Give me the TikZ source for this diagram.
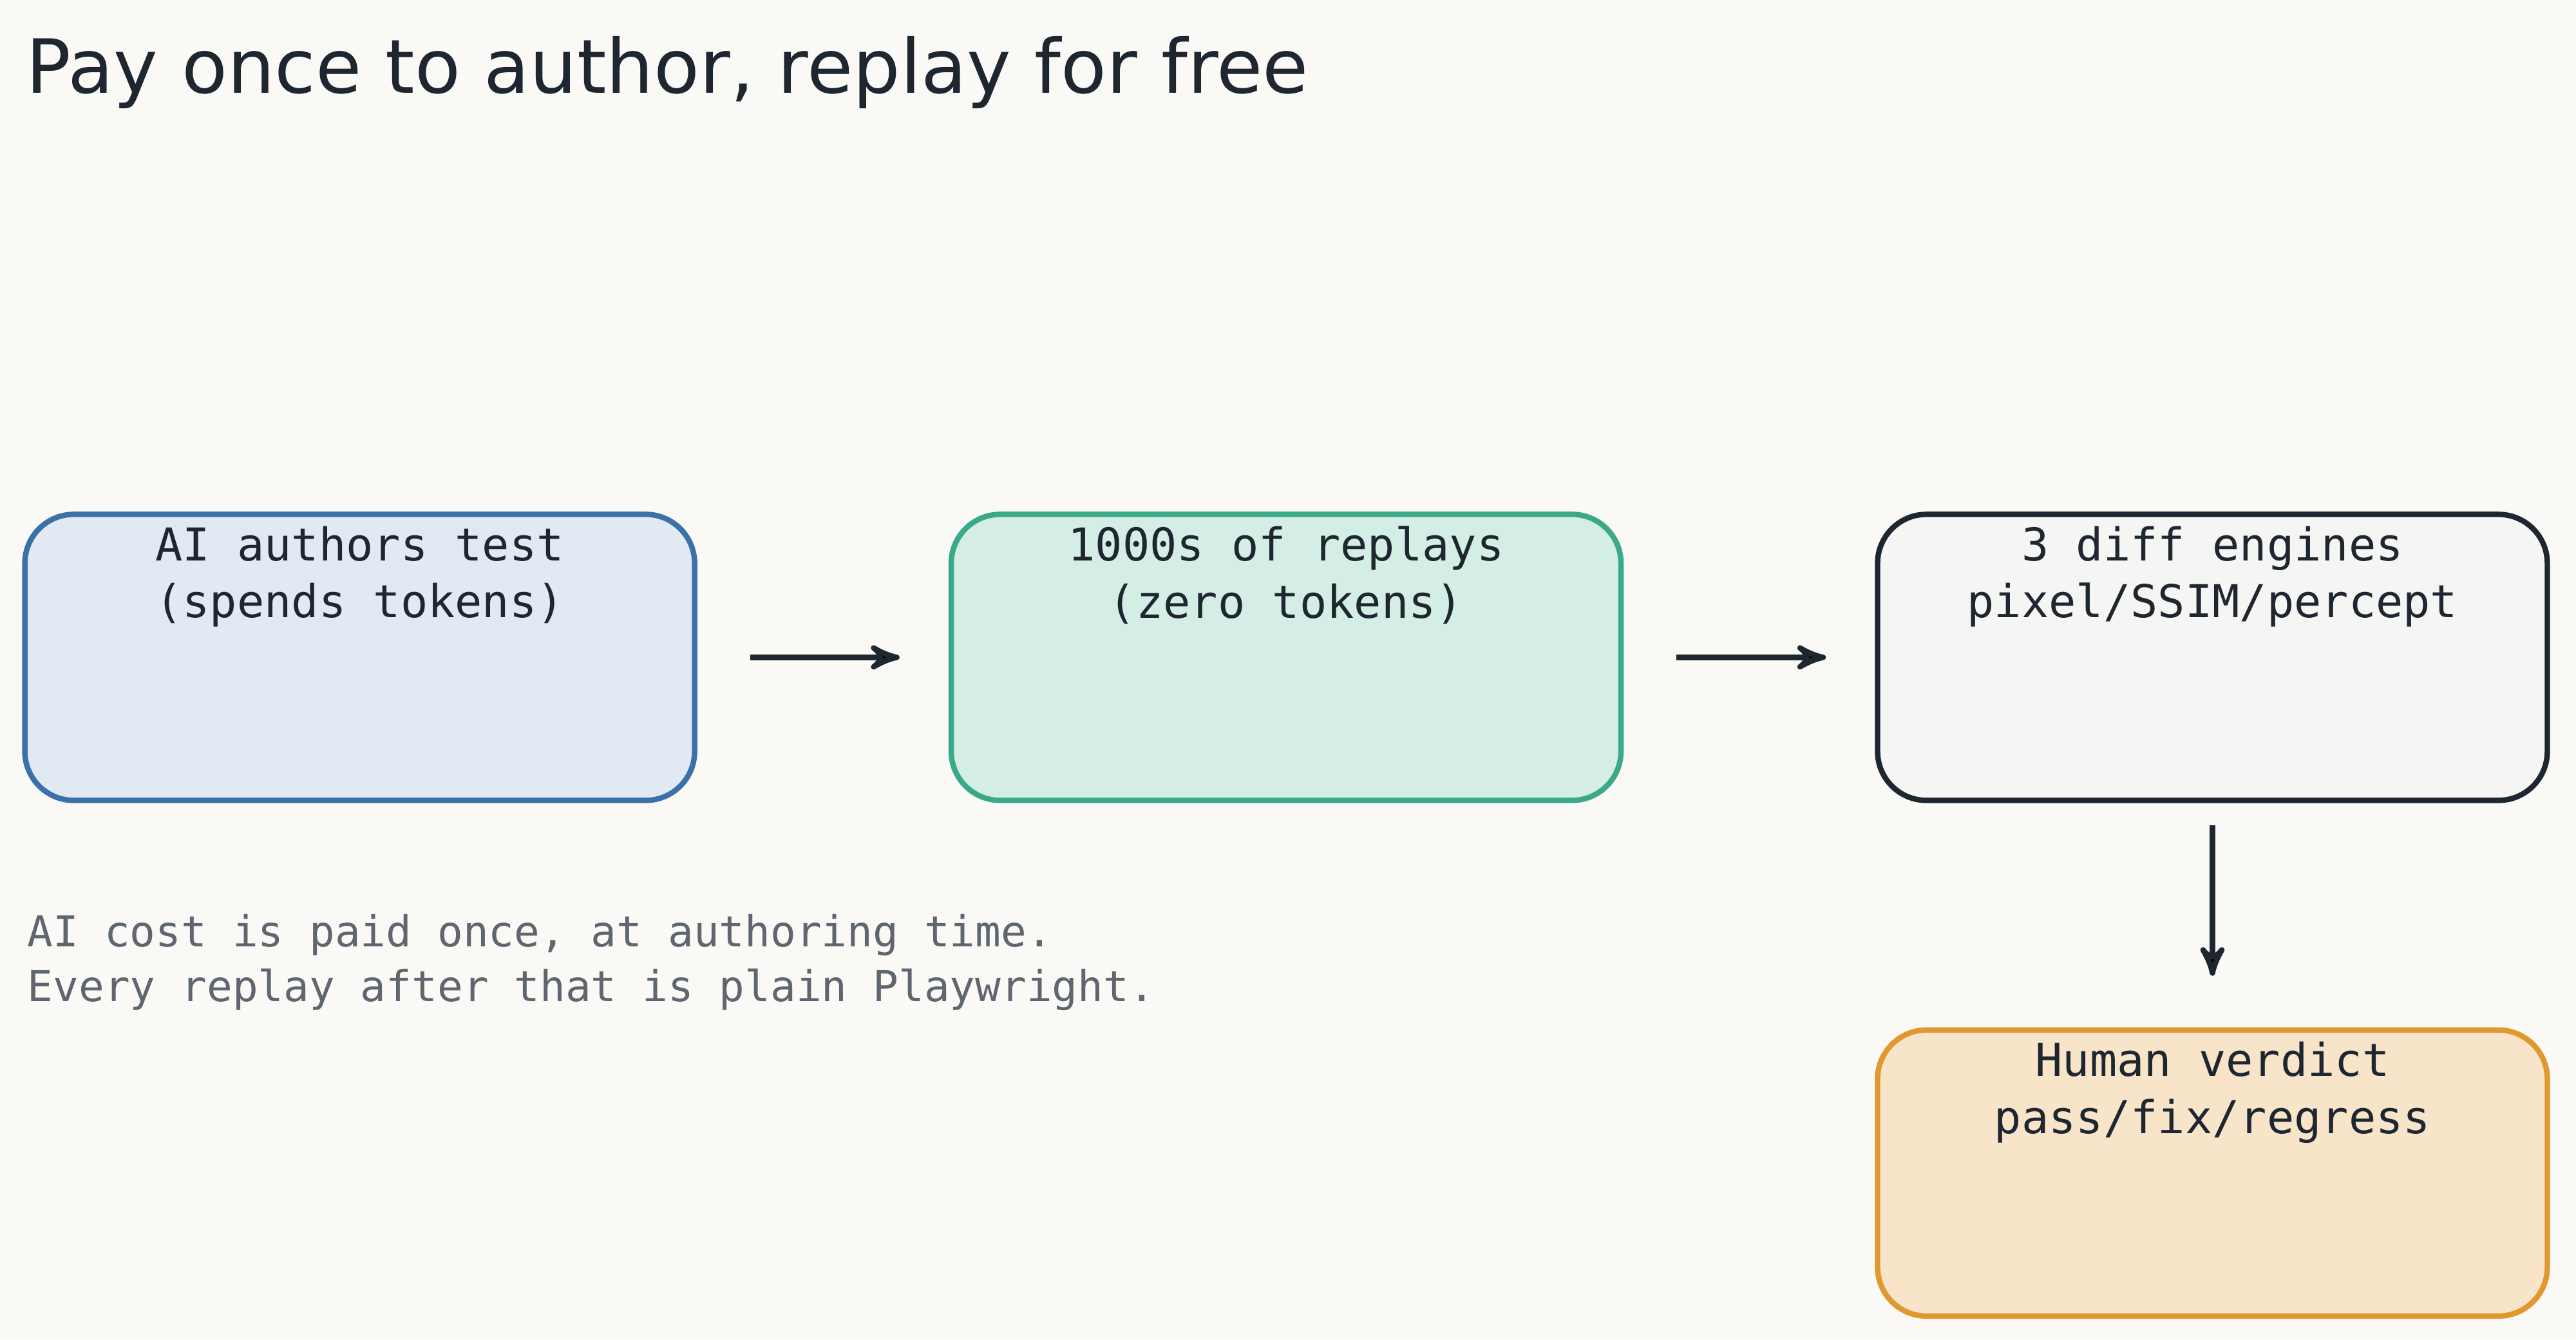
\documentclass[tikz,border=0pt]{standalone}
\usepackage{fontspec}
\setmainfont{DejaVu Sans}
\setmonofont{DejaVu Sans Mono}
\usetikzlibrary{arrows,positioning}

\definecolor{bgpaper}{HTML}{FAF9F6}
\definecolor{inkdark}{HTML}{1E2630}
\definecolor{inkgray}{HTML}{5F6670}
\definecolor{blueline}{HTML}{3A72A8}
\definecolor{bluefill}{HTML}{E1EAF3}
\definecolor{greenline}{HTML}{3AA98A}
\definecolor{greenfill}{HTML}{D4EEE6}
\definecolor{greyfill}{HTML}{F5F5F4}
\definecolor{orangeline}{HTML}{E0982F}
\definecolor{orangefill}{HTML}{F7E4C9}

\begin{document}
\begin{tikzpicture}[-,auto,node distance=1.95cm,
			thick,step box/.style={rounded corners=0.38cm,line width=1.2pt,
				minimum width=5.2cm,minimum height=2.22cm},
			step text/.style={anchor=north,align=center,inner sep=0pt,
				font=\ttfamily\fontsize{10}{12.6}\selectfont,text=inkdark,yshift=-0.1cm},
			flow/.style={->,>=stealth',line width=1.2pt,draw=inkdark}]
			
			\fill[bgpaper] (0,0) rectangle (20,-10.396);
			\useasboundingbox (0,0) rectangle (20,-10.396);
			
			\node[anchor=base west,inner sep=0pt,text=inkdark,
				font=\fontsize{16.5}{19}\selectfont] (title) at (0.19,-0.72)
				{Pay once to author, replay for free};
			
			\node[step box,draw=blueline,fill=bluefill] (A) at (2.793,-5.102) {};
			\node[step box,draw=greenline,fill=greenfill] (B) [right=of A] {};
			\node[step box,draw=inkdark,fill=greyfill] (C) [right=of B] {};
			\node[step box,draw=orangeline,fill=orangefill] (D) [below=1.74cm of C] {};
			
			\node[step text] at (A.north) {AI authors test\\(spends tokens)};
			\node[step text] at (B.north) {1000s of replays\\(zero tokens)};
			\node[step text] at (C.north) {3 diff engines\\pixel/SSIM/percept};
			\node[step text] at (D.north) {Human verdict\\pass/fix/regress};
			
			\node[anchor=north west,align=left,inner sep=0pt,text=inkgray,
				font=\ttfamily\fontsize{9.4}{12.2}\selectfont] (note) at (0.2,-7.08)
				{AI cost is paid once, at authoring time.\\Every replay after that is plain Playwright.};
			
			\path[flow]
			(A) edge[shorten <=0.41cm,shorten >=0.38cm] (B)
			(B) edge[shorten <=0.41cm,shorten >=0.38cm] (C)
			(C) edge[shorten <=0.17cm,shorten >=0.4cm] (D);
		\end{tikzpicture}
\end{document}
